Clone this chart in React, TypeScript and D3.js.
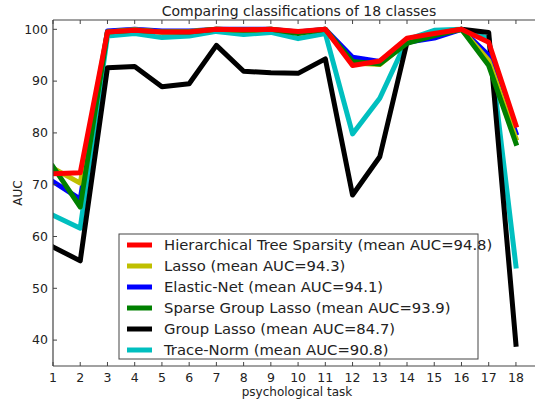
import { useMemo } from "react";
import * as d3 from "d3";

const W = 535;
const H = 400;
// plot area in pixels
const MARGIN = { top: 20, right: 0, bottom: 34, left: 53 };

const tasks = d3.range(1, 19);
const yTicks = [40, 50, 60, 70, 80, 90, 100];

const hierarchical = [72.1, 72.3, 99.5, 99.8, 99.5, 99.5, 100, 99.9, 100, 99.6, 100, 93.0, 93.9, 98.3, 99.2, 100, 97.5, 81.5];
const lasso = [73.2, 70.3, 99.5, 99.9, 99.5, 99.6, 100, 99.8, 100, 99.4, 100, 93.5, 93.2, 97.5, 99.0, 100, 94.0, 79.0];
const elasticNet = [70.6, 67.2, 99.7, 100, 99.7, 99.7, 100, 100, 100, 99.5, 100, 94.6, 93.8, 97.5, 98.3, 100, 95.0, 80.0];
const sparseGroup = [73.5, 65.7, 99.5, 99.8, 99.5, 99.5, 100, 99.8, 100, 99.2, 100, 93.8, 93.3, 97.3, 98.8, 100, 93.0, 78.0];
const groupLasso = [58.0, 55.3, 92.6, 92.8, 88.9, 89.5, 96.9, 91.9, 91.6, 91.5, 94.3, 68.0, 75.4, 97.5, 99.0, 100, 99.4, 39.2];
const traceNorm = [64.1, 61.6, 98.7, 99.2, 98.4, 98.7, 99.6, 99.0, 99.4, 98.2, 99.2, 79.8, 86.7, 98.0, 99.8, 100, 98.2, 54.3];

const legendLabels = [
  "Hierarchical Tree Sparsity (mean AUC=94.8)",
  "Lasso (mean AUC=94.3)",
  "Elastic-Net (mean AUC=94.1)",
  "Sparse Group Lasso (mean AUC=93.9)",
  "Group Lasso (mean AUC=84.7)",
  "Trace-Norm (mean AUC=90.8)",
];
const colors = ["#ff0000", "#bfbf00", "#0000ff", "#008000", "#000000", "#00bfbf"];
const seriesValues = [hierarchical, lasso, elasticNet, sparseGroup, groupLasso, traceNorm];
// draw order: back to front
const drawOrder = [5, 4, 2, 1, 3, 0];

const FONT = "'DejaVu Sans', sans-serif";

export default function App() {
  const x0 = MARGIN.left;
  const x1 = W - MARGIN.right;
  const y0 = MARGIN.top;
  const y1 = H - MARGIN.bottom;
  // the figure is cropped on the right, so the real axes center sits a bit right of the visible one
  const cx = 299;

  const xScale = useMemo(() => d3.scaleLinear().domain([1, 18.7]).range([x0, x1]), []);
  const yScale = useMemo(() => d3.scaleLinear().domain([35, 101.8]).range([y1, y0]), []);

  const line = d3
    .line<number>()
    .x((_, i) => xScale(tasks[i]))
    .y((d) => yScale(d));

  const legend = { x: 119, y: 234, w: 359, h: 125, row: 21 };

  return (
    <svg
      width={W}
      height={H}
      style={{ position: "absolute", left: 0, top: 0, background: "#fff" }}
      fontFamily={FONT}
    >
      <defs>
        <clipPath id="plot">
          <rect x={x0} y={y0} width={x1 - x0} height={y1 - y0} />
        </clipPath>
      </defs>
      <rect width={W} height={H} fill="#fff" />

      {/* lines */}
      <g clipPath="url(#plot)">
        {drawOrder.map((k) => (
          <path
            key={k}
            d={line(seriesValues[k]) || ""}
            fill="none"
            stroke={colors[k]}
            strokeWidth={5}
            strokeLinejoin="round"
            strokeLinecap="square"
          />
        ))}
      </g>

      {/* spines */}
      <g stroke="#444" strokeWidth={1.2} fill="none">
        <line x1={x0} x2={x0} y1={y0} y2={y1} />
        <line x1={x0} x2={x1} y1={y1} y2={y1} />
        <line x1={x0} x2={x1} y1={y0} y2={y0} />
      </g>

      {/* x ticks */}
      <g fontSize={12.5} fill="#222">
        {tasks.map((t) => (
          <g key={t}>
            <line x1={xScale(t)} x2={xScale(t)} y1={y1} y2={y1 - 4} stroke="#444" />
            <line x1={xScale(t)} x2={xScale(t)} y1={y0} y2={y0 + 4} stroke="#444" />
            <text x={xScale(t)} y={y1 + 16} textAnchor="middle">
              {t}
            </text>
          </g>
        ))}
      </g>

      {/* y ticks */}
      <g fontSize={12.5} fill="#222">
        {yTicks.map((t) => (
          <g key={t}>
            <line x1={x0} x2={x0 + 4} y1={yScale(t)} y2={yScale(t)} stroke="#444" />
            <text x={x0 - 5} y={yScale(t)} dy="0.35em" textAnchor="end">
              {t}
            </text>
          </g>
        ))}
      </g>

      {/* title and axis labels */}
      <text x={cx} y={16} textAnchor="middle" fontSize={14} fill="#222">
        Comparing classifications of 18 classes
      </text>
      <text x={297} y={396} textAnchor="middle" fontSize={12} fill="#222">
        psychological task
      </text>
      <text
        transform={`translate(22,${(y0 + y1) / 2}) rotate(-90)`}
        textAnchor="middle"
        fontSize={12}
        fill="#222"
      >
        AUC
      </text>

      {/* legend */}
      <g>
        <rect x={legend.x} y={legend.y} width={legend.w} height={legend.h} fill="#fff" stroke="#444" strokeWidth={1} />
        {legendLabels.map((label, i) => {
          const cy = legend.y + 11 + i * legend.row;
          return (
            <g key={label}>
              <line x1={legend.x + 8} x2={legend.x + 33} y1={cy} y2={cy} stroke={colors[i]} strokeWidth={5} />
              <text x={legend.x + 45} y={cy} dy="0.35em" fontSize={14.8} fill="#222">
                {label}
              </text>
            </g>
          );
        })}
      </g>
    </svg>
  );
}
